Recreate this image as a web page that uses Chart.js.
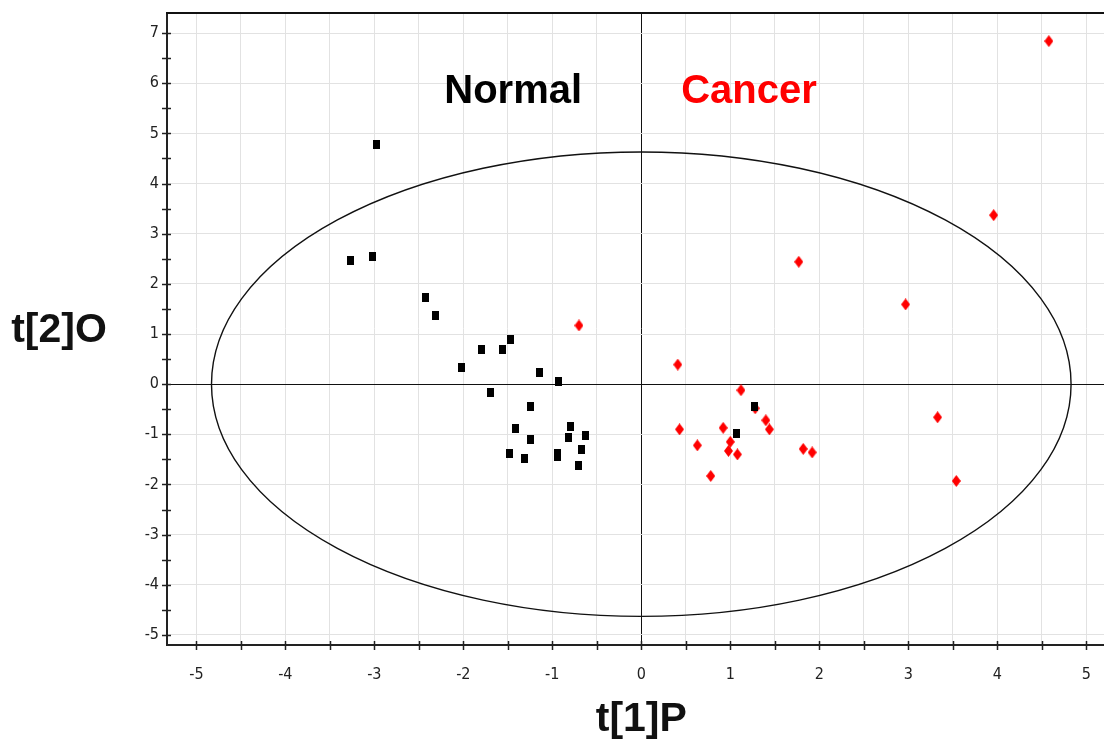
<!DOCTYPE html>
<html><head><meta charset="utf-8">
<script src="https://cdn.jsdelivr.net/npm/chart.js@4/dist/chart.umd.min.js"></script>
<style>html,body{margin:0;padding:0;background:#fff;overflow:hidden;} #wrap{width:1104px;height:740px;} canvas{display:block;}</style>
</head><body><div id="wrap"><canvas id="c" width="1104" height="740"></canvas></div>
<script>
// ---- data ----
const normalX = [-2.98,-3.27,-3.02,-2.42,-2.31,-1.47,-1.80,-1.56,-2.02,-1.14,-0.93,-1.69,-1.24,-1.41,-0.79,-0.82,-0.63,-1.24,-0.67,-1.48,-1.31,-0.94,-0.94,-0.71,1.07,1.27];
const normalY = [4.77,2.46,2.54,1.72,1.37,0.90,0.69,0.69,0.33,0.23,0.05,-0.17,-0.45,-0.88,-0.84,-1.06,-1.02,-1.10,-1.31,-1.38,-1.48,-1.39,-1.45,-1.62,-0.99,-0.44];
const cancerX = [-0.70,1.77,0.41,1.12,1.28,1.40,1.44,0.43,0.92,1.00,0.63,0.98,1.08,1.82,1.92,0.78,3.96,2.97,3.33,3.54,4.58];
const cancerY = [1.17,2.44,0.39,-0.12,-0.48,-0.72,-0.90,-0.90,-0.87,-1.15,-1.22,-1.33,-1.40,-1.29,-1.36,-1.83,3.37,1.59,-0.66,-1.93,6.84];
const xTickLabels = ['-5','-4','-3','-2','-1','0','1','2','3','4','5'];
const yTickLabels = ['-5','-4','-3','-2','-1','0','1','2','3','4','5','6','7'];
const groupLabels = ['Normal','Cancer'];
const groupLabelX = [-1.44, 1.21];
const groupLabelY = [5.82, 5.82];
const groupColors = ['#000000','#ff0000'];
const xTitle = 't[1]P';
const yTitle = 't[2]O';
const ellipseRX = 4.83;
const ellipseRY = 4.63;
const X_MIN = -5.33, X_MAX = 5.2, Y_MIN = -5.2, Y_MAX = 7.4;

// ---- helpers ----
function withHalves(labels){
  const v = labels.map(Number); const out = [];
  for (let i=0;i<v.length;i++){ out.push(v[i]); if (i<v.length-1) out.push((v[i]+v[i+1])/2); }
  return out;
}
const xTickValues = withHalves(xTickLabels);
const yTickValues = withHalves(yTickLabels);
function makeSquare(){ const c=document.createElement('canvas'); c.width=7; c.height=9; const g=c.getContext('2d'); g.fillStyle='#000'; g.fillRect(0,0,7,9); return c; }
function makeDiamond(){ const c=document.createElement('canvas'); c.width=9; c.height=12; const g=c.getContext('2d'); g.fillStyle='#ff0000'; g.beginPath(); g.moveTo(4.5,0); g.lineTo(9,6); g.lineTo(4.5,12); g.lineTo(0,6); g.closePath(); g.fill(); return c; }
const tickFont = {family:"'Liberation Sans Narrow','DejaVu Sans Condensed','Arial Narrow',sans-serif", size:16};
const labelFor = (labels) => (v) => { const s = labels.find(l => Number(l) === v); return s === undefined ? '' : s; };
const xGrid = (ctx) => (ctx.tick && ctx.tick.value === 0) ? '#111111' : '#e2e2e2';
const yGrid = (ctx) => { if (!ctx.tick) return 'rgba(0,0,0,0)'; const v = ctx.tick.value; if (v === 0) return '#111111'; return Number.isInteger(v) ? '#e2e2e2' : 'rgba(0,0,0,0)'; };

const decor = {
  id:'decor',
  beforeDatasetsDraw(chart){
    const {ctx, scales:{x, y}} = chart;
    const cx = x.getPixelForValue(0), cy = y.getPixelForValue(0);
    const rx = x.getPixelForValue(ellipseRX) - cx, ry = cy - y.getPixelForValue(ellipseRY);
    ctx.save(); ctx.strokeStyle = '#111'; ctx.lineWidth = 1.4;
    ctx.beginPath(); ctx.ellipse(cx, cy, rx, ry, 0, 0, Math.PI*2); ctx.stroke(); ctx.restore();
  },
  afterDraw(chart){
    const {ctx, chartArea:a, scales:{x, y}} = chart;
    ctx.save();
    ctx.strokeStyle = '#111'; ctx.lineWidth = 2;
    ctx.beginPath(); ctx.moveTo(a.left-1, a.top); ctx.lineTo(a.right, a.top); ctx.stroke();
    ctx.lineWidth = 1.5; ctx.strokeStyle = '#222';
    xTickValues.forEach(v => { const px = Math.round(x.getPixelForValue(v))+0.5; ctx.beginPath(); ctx.moveTo(px, a.bottom-4); ctx.lineTo(px, a.bottom+5); ctx.stroke(); });
    yTickValues.forEach(v => { const py = Math.round(y.getPixelForValue(v))+0.5; ctx.beginPath(); ctx.moveTo(a.left-5, py); ctx.lineTo(a.left+4, py); ctx.stroke(); });
    ctx.font = "bold 40px 'Liberation Sans', Arial, sans-serif";
    ctx.textAlign = 'center'; ctx.textBaseline = 'middle';
    groupLabels.forEach((t,i) => { ctx.fillStyle = groupColors[i]; ctx.fillText(t, x.getPixelForValue(groupLabelX[i]), y.getPixelForValue(groupLabelY[i])); });
    ctx.fillStyle = '#111';
    ctx.font = "bold 41px 'Liberation Sans', Arial, sans-serif";
    ctx.fillText(yTitle, 59, 331);
    ctx.fillText(xTitle, x.getPixelForValue(0), 720);
    ctx.restore();
  }
};

new Chart(document.getElementById('c'), {
  type:'scatter',
  data:{ datasets:[
    { label:'Normal', data: normalX.map((v,i)=>({x:v, y:normalY[i]})), pointStyle: makeSquare(), backgroundColor:'#000', borderColor:'#000' },
    { label:'Cancer', data: cancerX.map((v,i)=>({x:v, y:cancerY[i]})), pointStyle: makeDiamond(), backgroundColor:'#f00', borderColor:'#f00' }
  ]},
  options:{
    responsive:false, animation:false, devicePixelRatio:1,
    layout:{ autoPadding:false, padding:{ top:13, right:0, left:0, bottom:0 } },
    plugins:{ legend:{display:false}, tooltip:{enabled:false} },
    scales:{
      x:{ type:'linear', min:X_MIN, max:X_MAX,
        afterBuildTicks: s => { s.ticks = xTickValues.map(v => ({value:v})); },
        afterFit: s => { s.height = 95; s.paddingLeft = 0; s.paddingRight = 0; },
        ticks:{ autoSkip:false, maxRotation:0, padding:2, color:'#222', font:tickFont, callback: labelFor(xTickLabels) },
        grid:{ color: xGrid, lineWidth:1, drawTicks:true, tickLength:18, tickColor:'rgba(0,0,0,0)' },
        border:{ display:true, color:'#222', width:2 }
      },
      y:{ type:'linear', min:Y_MIN, max:Y_MAX,
        afterBuildTicks: s => { s.ticks = yTickValues.map(v => ({value:v})); },
        afterFit: s => { s.width = 167; s.paddingTop = 0; s.paddingBottom = 0; },
        ticks:{ autoSkip:false, padding:2, color:'#222', font:tickFont, callback: labelFor(yTickLabels) },
        grid:{ color: yGrid, lineWidth:1, drawTicks:true, tickLength:6, tickColor:'rgba(0,0,0,0)' },
        border:{ display:true, color:'#222', width:2 }
      }
    }
  },
  plugins:[decor]
});
</script>
</body></html>
